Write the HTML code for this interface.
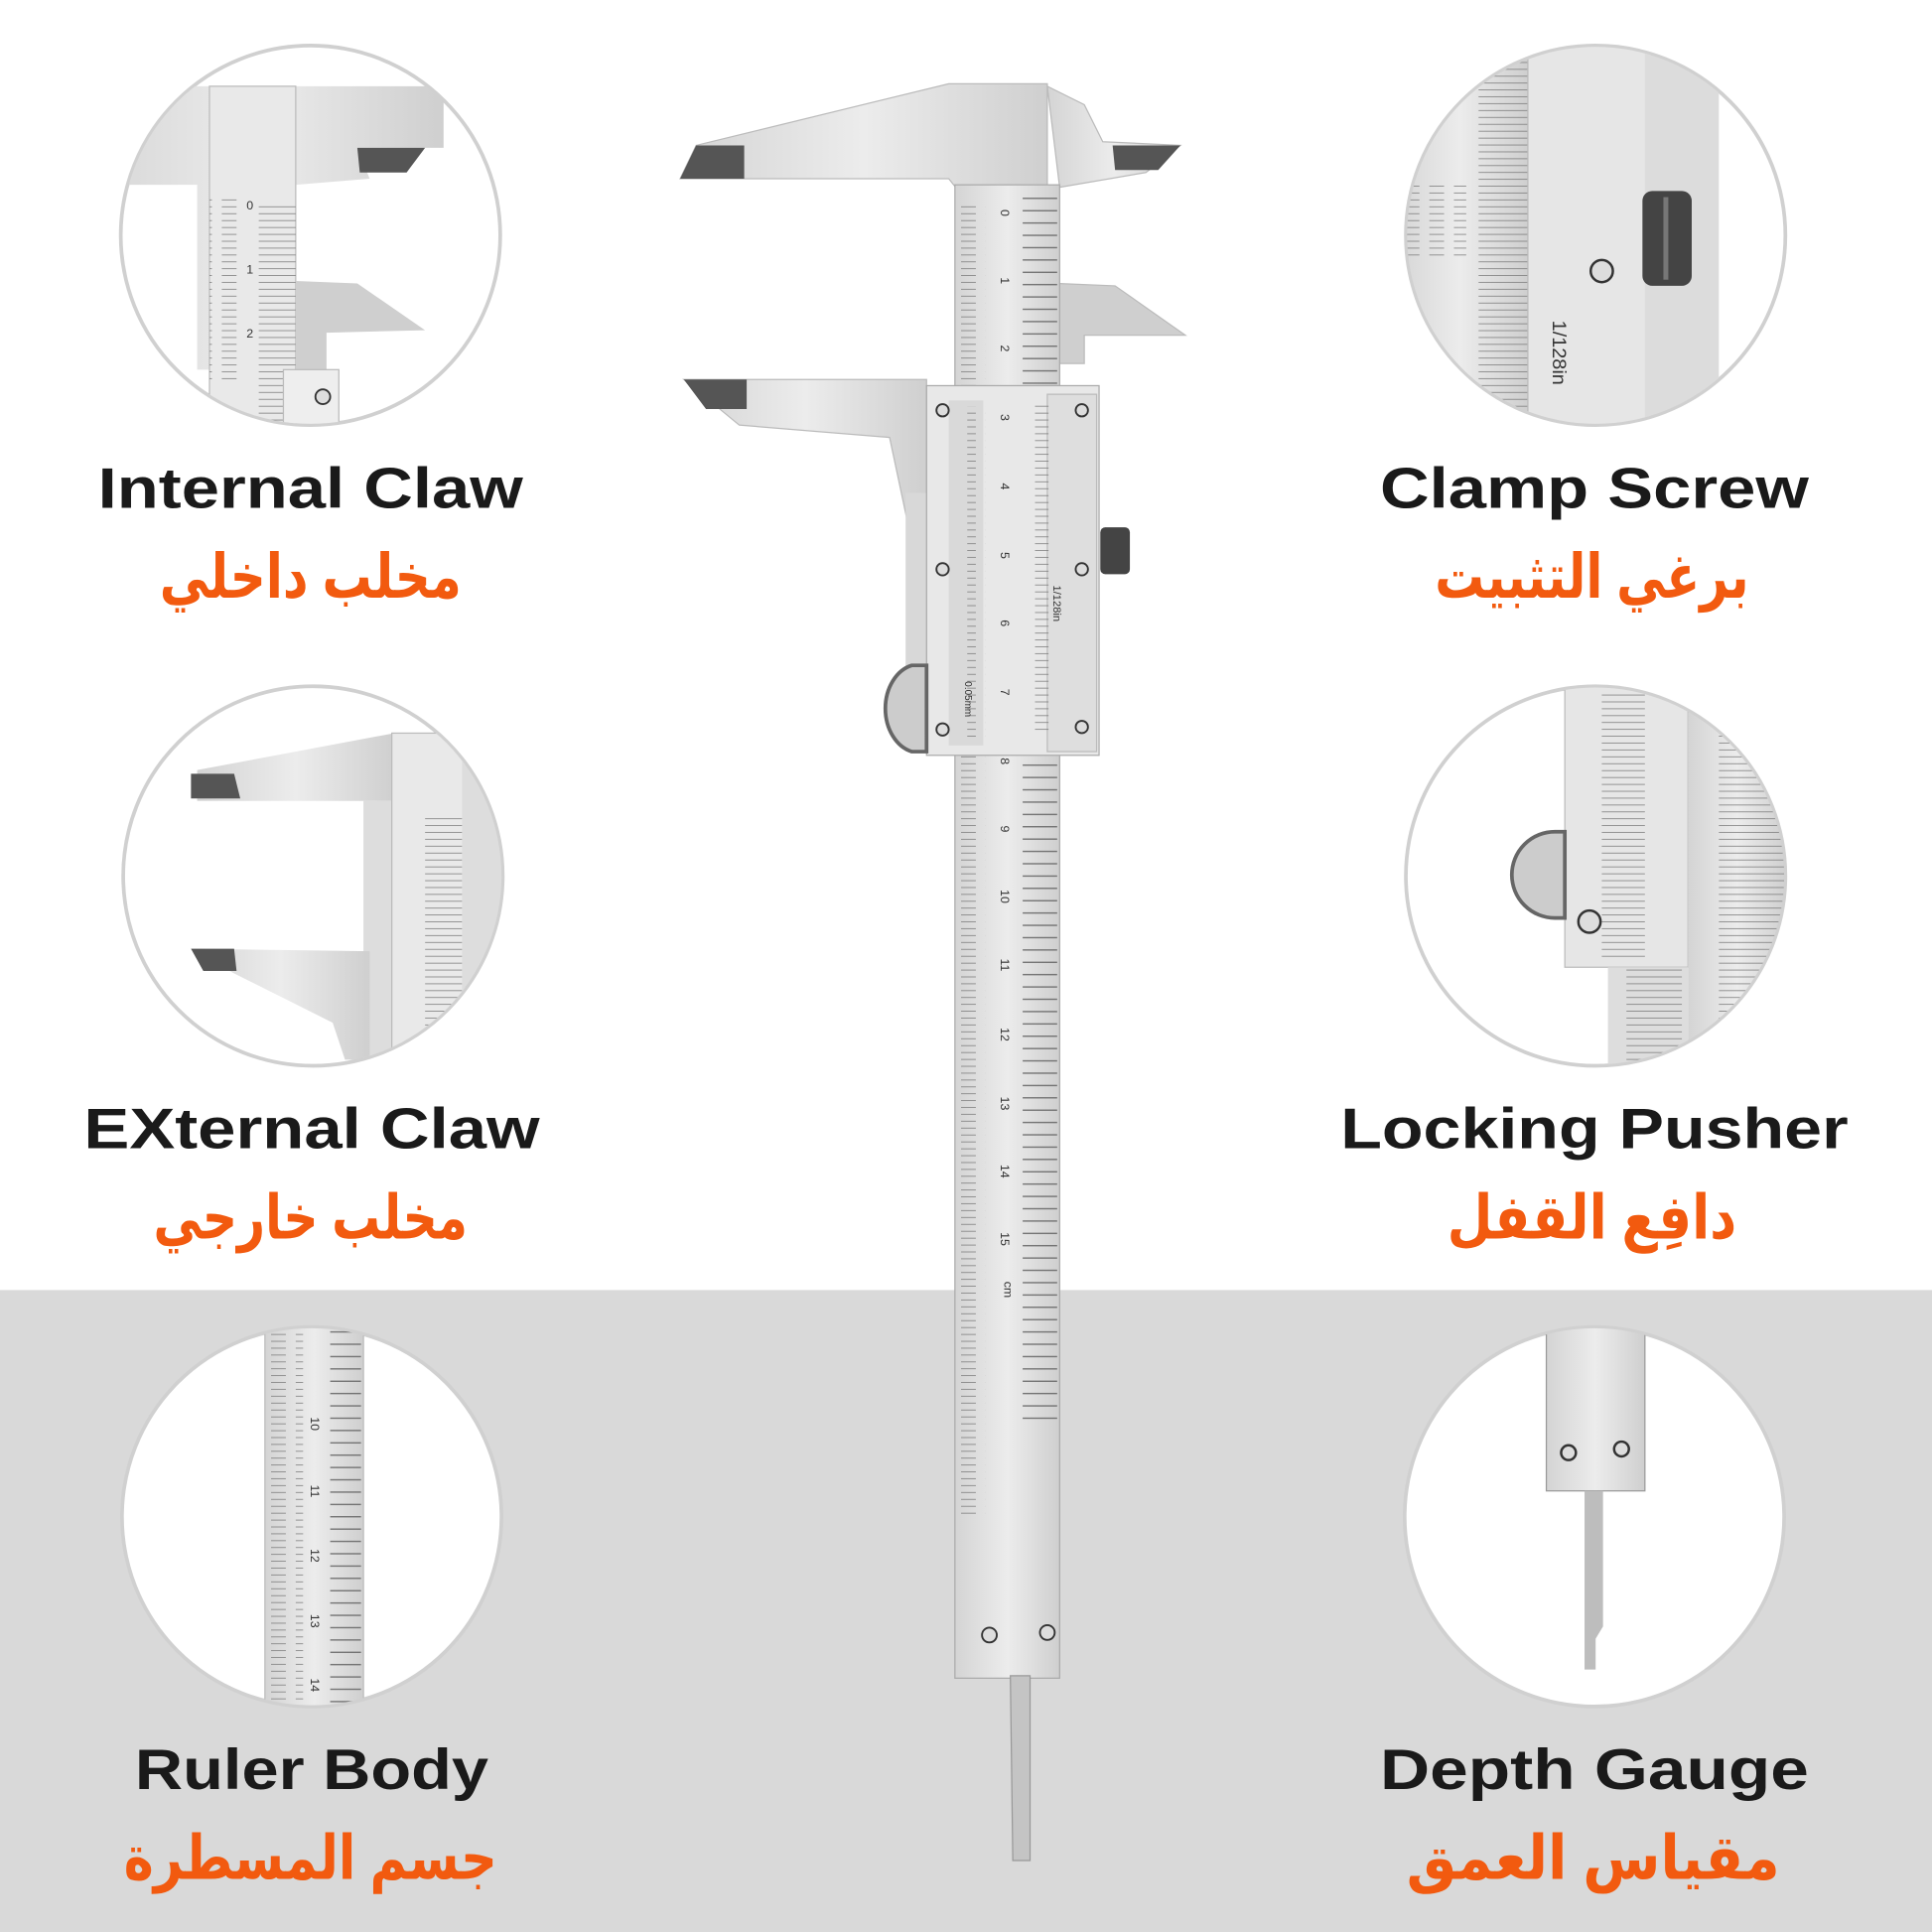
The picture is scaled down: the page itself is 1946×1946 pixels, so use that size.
<!DOCTYPE html>
<html><head><meta charset="utf-8"><style>
html,body{margin:0;padding:0;background:#fff}
svg{display:block}
.en{font-family:"Liberation Sans",sans-serif;font-weight:bold;fill:#1a1a1a;font-size:46px}
.ar{font-family:"Liberation Sans","Noto Sans CJK SC","DejaVu Sans",sans-serif;font-weight:bold;fill:#f25a0f;font-size:50px}
.n{font-family:"Liberation Sans",sans-serif;font-size:10px;fill:#333}
</style></head><body>
<svg width="1946" height="1946" viewBox="0 0 1568 1568" xmlns="http://www.w3.org/2000/svg">
<defs>
<pattern id="tk" x="0" y="0" width="20" height="5.58" patternUnits="userSpaceOnUse"><line x1="0" y1="0.5" x2="20" y2="0.5" stroke="#777" stroke-width="0.6"/></pattern>
<pattern id="tkS" x="0" y="0" width="20" height="5.58" patternUnits="userSpaceOnUse"><line x1="0" y1="0.5" x2="12" y2="0.5" stroke="#777" stroke-width="0.6"/></pattern>
<pattern id="tkB" x="0" y="0" width="40" height="10" patternUnits="userSpaceOnUse"><line x1="0" y1="1" x2="40" y2="1" stroke="#666" stroke-width="1"/></pattern>
<linearGradient id="met" x1="0" x2="1"><stop offset="0" stop-color="#d4d4d4"/><stop offset="0.5" stop-color="#ececec"/><stop offset="1" stop-color="#cfcfcf"/></linearGradient>
<clipPath id="c1"><circle cx="252" cy="191" r="153"/></clipPath>
<clipPath id="c2"><circle cx="1295" cy="191" r="153"/></clipPath>
<clipPath id="c3"><circle cx="254" cy="711" r="153"/></clipPath>
<clipPath id="c4"><circle cx="1295" cy="711" r="153"/></clipPath>
<clipPath id="c5"><circle cx="253" cy="1231" r="153"/></clipPath>
<clipPath id="c6"><circle cx="1294" cy="1231" r="153"/></clipPath>
</defs>
<rect x="0" y="1047" width="1568" height="521" fill="#d9d9d9"/>

<g>
<circle cx="252" cy="191" r="154" fill="#fff" stroke="#d0d0d0" stroke-width="3"/>
<g clip-path="url(#c1)">
 <polygon points="60,70 360,70 360,120 290,120 300,145 240,150 240,300 160,300 160,150 60,150" fill="url(#met)"/>
 <rect x="170" y="70" width="70" height="280" fill="#e9e9e9" stroke="#bbb"/>
 <rect x="170" y="160" width="28" height="150" fill="url(#tkS)"/>
 <rect x="210" y="165" width="30" height="180" fill="url(#tk)"/>
 <polygon points="290,120 345,120 330,140 292,140" fill="#555"/>
 <polygon points="240,228 290,230 345,268 265,270 265,300 240,300" fill="#cfcfcf"/>
 <rect x="230" y="300" width="45" height="50" fill="#eee" stroke="#bbb"/>
 <circle cx="262" cy="322" r="6" fill="#ddd" stroke="#333" stroke-width="1.5"/>
 <text class="n" x="200" y="170">0</text><text class="n" x="200" y="222">1</text><text class="n" x="200" y="274">2</text>
</g>
<circle cx="1295" cy="191" r="154" fill="none" stroke="#d0d0d0" stroke-width="3"/>
<g clip-path="url(#c2)">
 <rect x="1130" y="30" width="110" height="330" fill="url(#met)"/>
 <rect x="1200" y="30" width="40" height="330" fill="url(#tk)"/>
 <rect x="1140" y="150" width="50" height="60" fill="url(#tkS)"/>
 <rect x="1240" y="30" width="100" height="330" fill="#e6e6e6" stroke="#bbb"/>
 <rect x="1335" y="30" width="60" height="330" fill="#dcdcdc"/>
 <rect x="1333" y="155" width="40" height="77" rx="8" fill="#444"/>
 <rect x="1350" y="160" width="4" height="67" fill="#777"/>
 <circle cx="1300" cy="220" r="9" fill="#ddd" stroke="#333" stroke-width="2"/>
 <text class="n" x="1260" y="260" transform="rotate(90 1260 260)" style="font-size:16px">1/128in</text>
</g>
<circle cx="254" cy="711" r="154" fill="#fff" stroke="#d0d0d0" stroke-width="3"/>
<g clip-path="url(#c3)">
 <polygon points="160,625 320,595 320,650 160,650" fill="url(#met)"/>
 <polygon points="155,628 190,628 195,648 155,648" fill="#555"/>
 <rect x="295" y="650" width="25" height="220" fill="#ddd"/>
 <rect x="318" y="595" width="60" height="270" fill="#e9e9e9" stroke="#bbb"/>
 <rect x="345" y="660" width="30" height="200" fill="url(#tk)"/>
 <polygon points="155,770 300,772 300,860 280,860 270,830 190,790" fill="url(#met)"/>
 <polygon points="155,770 190,770 192,788 165,788" fill="#555"/>
 <rect x="375" y="595" width="35" height="270" fill="#ddd"/>
</g>
<circle cx="1295" cy="711" r="154" fill="#fff" stroke="#d0d0d0" stroke-width="3"/>
<g clip-path="url(#c4)">
 <rect x="1270" y="555" width="100" height="230" fill="#e6e6e6" stroke="#bbb"/>
 <rect x="1300" y="560" width="35" height="220" fill="url(#tk)"/>
 <rect x="1370" y="555" width="80" height="320" fill="url(#met)"/>
 <rect x="1395" y="560" width="55" height="310" fill="url(#tk)"/>
 <rect x="1305" y="785" width="65" height="90" fill="#ddd"/>
 <rect x="1320" y="785" width="45" height="90" fill="url(#tk)"/>
 <path d="M1262,675 A35,35 0 0 0 1262,745 L1270,745 L1270,675 Z" fill="#ccc" stroke="#666" stroke-width="3"/>
 <circle cx="1290" cy="748" r="9" fill="#ddd" stroke="#333" stroke-width="2"/>
</g>
<circle cx="253" cy="1231" r="154" fill="#fff" stroke="#d0d0d0" stroke-width="3"/>
<g clip-path="url(#c5)">
 <rect x="215" y="1075" width="80" height="320" fill="url(#met)" stroke="#bbb"/>
 <rect x="218" y="1075" width="28" height="320" fill="url(#tkS)"/>
 <rect x="268" y="1075" width="25" height="320" fill="url(#tkB)"/>
 <text class="n" x="252" y="1150" transform="rotate(90 252 1150)">10</text>
 <text class="n" x="252" y="1205" transform="rotate(90 252 1205)">11</text>
 <text class="n" x="252" y="1257" transform="rotate(90 252 1257)">12</text>
 <text class="n" x="252" y="1310" transform="rotate(90 252 1310)">13</text>
 <text class="n" x="252" y="1362" transform="rotate(90 252 1362)">14</text>
</g>
<circle cx="1294" cy="1231" r="154" fill="#fff" stroke="#d0d0d0" stroke-width="3"/>
<g clip-path="url(#c6)">
 <rect x="1255" y="1075" width="80" height="135" fill="url(#met)" stroke="#999"/>
 <circle cx="1273" cy="1179" r="6" fill="#ddd" stroke="#333" stroke-width="2"/>
 <circle cx="1316" cy="1176" r="6" fill="#ddd" stroke="#333" stroke-width="2"/>
 <polygon points="1286,1210 1301,1210 1301,1320 1295,1330 1295,1355 1286,1355" fill="#bdbdbd"/>
</g>
</g>

<g>
 <polygon points="565,118 770,68 850,68 850,155 778,155 770,145 552,145" fill="url(#met)" stroke="#bbb"/>
 <polygon points="565,118 604,118 604,145 552,145" fill="#555"/>
 <polygon points="850,70 880,85 895,115 958,118 930,140 860,152" fill="url(#met)" stroke="#bbb"/>
 <polygon points="903,118 958,118 940,138 905,138" fill="#555"/>
 <polygon points="858,230 905,232 962,272 880,272 880,295 858,295" fill="#cfcfcf" stroke="#bbb"/>
 <rect x="775" y="150" width="85" height="1212" fill="url(#met)" stroke="#aaa"/>
 <rect x="778" y="165" width="22" height="365" fill="url(#tkS)"/>
 <rect x="778" y="610" width="22" height="620" fill="url(#tkS)"/>
 <rect x="830" y="160" width="28" height="1000" fill="url(#tkB)"/>
 <polygon points="820,1360 836,1360 836,1510 822,1510" fill="#c4c4c4" stroke="#999"/>
 <polygon points="555,308 752,308 752,440 740,440 722,355 600,345" fill="url(#met)" stroke="#bbb"/>
 <polygon points="555,308 606,308 606,332 573,332" fill="#555"/>
 <rect x="735" y="400" width="22" height="200" fill="#d8d8d8"/>
 <rect x="752" y="313" width="140" height="300" fill="#e8e8e8" stroke="#aaa"/>
 <rect x="770" y="325" width="28" height="280" fill="#d9d9d9"/>
 <rect x="785" y="330" width="15" height="270" fill="url(#tkS)"/>
 <rect x="850" y="320" width="40" height="290" fill="#dedede" stroke="#bbb"/>
 <rect x="835" y="325" width="16" height="270" fill="url(#tkS)"/>
 <rect x="893" y="428" width="24" height="38" rx="4" fill="#444"/>
 <path d="M740,540 A28,36 0 0 0 740,610 L752,610 L752,540 Z" fill="#ccc" stroke="#666" stroke-width="3"/>
 <g fill="#ddd" stroke="#333" stroke-width="1.5">
 <circle cx="765" cy="333" r="5"/><circle cx="765" cy="462" r="5"/><circle cx="765" cy="592" r="5"/>
 <circle cx="878" cy="333" r="5"/><circle cx="878" cy="462" r="5"/><circle cx="878" cy="590" r="5"/>
 <circle cx="803" cy="1327" r="6"/><circle cx="850" cy="1325" r="6"/>
 </g>
 <g class="n">
 <text x="812" y="170" transform="rotate(90 812 170)">0</text>
 <text x="812" y="225" transform="rotate(90 812 225)">1</text>
 <text x="812" y="280" transform="rotate(90 812 280)">2</text>
 <text x="812" y="336" transform="rotate(90 812 336)">3</text>
 <text x="812" y="392" transform="rotate(90 812 392)">4</text>
 <text x="812" y="448" transform="rotate(90 812 448)">5</text>
 <text x="812" y="503" transform="rotate(90 812 503)">6</text>
 <text x="812" y="559" transform="rotate(90 812 559)">7</text>
 <text x="812" y="615" transform="rotate(90 812 615)">8</text>
 <text x="812" y="670" transform="rotate(90 812 670)">9</text>
 <text x="812" y="722" transform="rotate(90 812 722)">10</text>
 <text x="812" y="778" transform="rotate(90 812 778)">11</text>
 <text x="812" y="834" transform="rotate(90 812 834)">12</text>
 <text x="812" y="890" transform="rotate(90 812 890)">13</text>
 <text x="812" y="945" transform="rotate(90 812 945)">14</text>
 <text x="812" y="1000" transform="rotate(90 812 1000)">15</text>
 <text x="815" y="1040" transform="rotate(90 815 1040)">cm</text>
 <text x="855" y="475" transform="rotate(90 855 475)" style="font-size:9px">1/128in</text>
 <text x="783" y="553" transform="rotate(90 783 553)" style="font-size:8px">0.05mm</text>
 </g>
</g>

<text class="en" x="252" y="412" text-anchor="middle" textLength="345" lengthAdjust="spacingAndGlyphs">Internal Claw</text>
<text class="ar" x="252" y="485" text-anchor="middle" direction="rtl" textLength="245" lengthAdjust="spacingAndGlyphs">مخلب داخلي</text>
<text class="en" x="1294" y="412" text-anchor="middle" textLength="348" lengthAdjust="spacingAndGlyphs">Clamp Screw</text>
<text class="ar" x="1292" y="485" text-anchor="middle" direction="rtl" textLength="255" lengthAdjust="spacingAndGlyphs">برغي التثبيت</text>
<text class="en" x="253" y="932" text-anchor="middle" textLength="370" lengthAdjust="spacingAndGlyphs">EXternal Claw</text>
<text class="ar" x="252" y="1005" text-anchor="middle" direction="rtl" textLength="255" lengthAdjust="spacingAndGlyphs">مخلب خارجي</text>
<text class="en" x="1294" y="932" text-anchor="middle" textLength="412" lengthAdjust="spacingAndGlyphs">Locking Pusher</text>
<text class="ar" x="1292" y="1005" text-anchor="middle" direction="rtl" textLength="235" lengthAdjust="spacingAndGlyphs">دافِع القفل</text>
<text class="en" x="253" y="1452" text-anchor="middle" textLength="287" lengthAdjust="spacingAndGlyphs">Ruler Body</text>
<text class="ar" x="252" y="1525" text-anchor="middle" direction="rtl" textLength="303" lengthAdjust="spacingAndGlyphs">جسم المسطرة</text>
<text class="en" x="1294" y="1452" text-anchor="middle" textLength="348" lengthAdjust="spacingAndGlyphs">Depth Gauge</text>
<text class="ar" x="1293" y="1525" text-anchor="middle" direction="rtl" textLength="303" lengthAdjust="spacingAndGlyphs">مقياس العمق</text>
</svg>
</body></html>
